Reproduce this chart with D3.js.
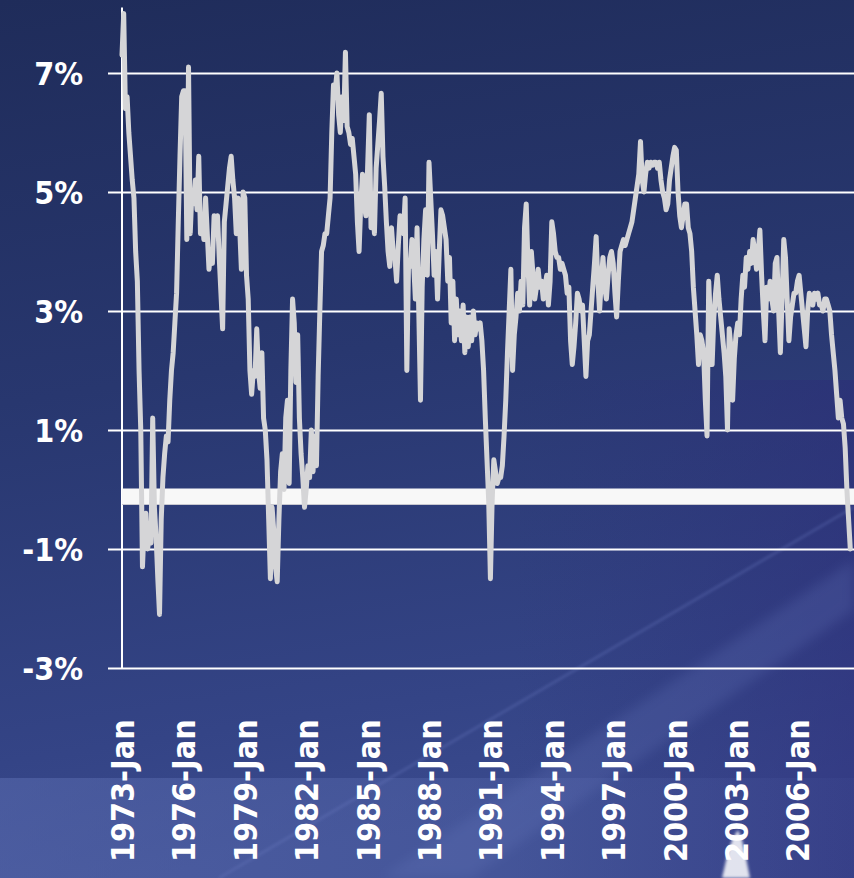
<!DOCTYPE html>
<html>
<head>
<meta charset="utf-8">
<script src="https://cdn.jsdelivr.net/npm/d3@7"></script>
<style>
  html, body { margin: 0; padding: 0; background: #24336a; }
  svg { display: block; }
</style>
</head>
<body>
<svg id="chart" width="854" height="878"></svg>
<script>
// Monthly rate, percent, starting January 1973 (one row per year)
const startYear = 1973;
const monthNames = ["Jan","Feb","Mar","Apr","May","Jun","Jul","Aug","Sep","Oct","Nov","Dec"];
const rate = [
  7.3, 8.0, 6.4, 6.6, 6.0, 5.6, 5.2, 4.9, 4.0, 3.5, 2.0, 1.0,        // 1973
  -1.3, -0.6, -0.4, -1.0, -0.8, -0.9, 1.2, -0.3, -0.8, -1.5, -2.1, -0.5, // 1974
  0.2, 0.6, 0.9, 0.8, 1.5, 2.0, 2.3, 2.8, 3.3, 4.5, 5.6, 6.6,        // 1975
  6.7, 6.7, 4.2, 7.1, 4.3, 5.0, 4.8, 5.2, 4.7, 5.6, 4.3, 4.6,        // 1976
  4.2, 4.9, 4.3, 3.7, 4.0, 3.8, 4.6, 4.4, 4.6, 3.9, 3.3, 2.7,        // 1977
  4.5, 4.8, 5.1, 5.4, 5.6, 5.2, 4.9, 4.3, 4.9, 4.4, 3.7, 5.0,        // 1978
  4.9, 3.6, 3.2, 2.0, 1.6, 2.0, 1.9, 2.7, 2.0, 1.7, 2.3, 1.2,        // 1979
  1.0, 0.5, -0.5, -1.5, -0.3, -0.7, -1.3, -1.55, -0.5, 0.3, 0.6, 0.0, // 1980
  1.2, 1.5, 0.1, 2.0, 3.2, 2.8, 1.8, 2.6, 1.2, 0.6, 0.2, -0.3,       // 1981
  0.0, 0.4, 0.2, 1.0, 0.3, 0.9, 0.4, 1.9, 3.0, 4.0, 4.1, 4.3,        // 1982
  4.3, 4.6, 4.9, 6.0, 6.8, 6.7, 7.0, 6.3, 6.0, 6.6, 6.2, 7.35,       // 1983
  6.1, 6.0, 5.8, 5.9, 5.6, 5.3, 4.5, 4.0, 4.8, 5.3, 4.8, 4.6,        // 1984
  5.4, 6.3, 4.4, 4.8, 4.3, 5.4, 5.8, 6.2, 6.66, 5.6, 5.1, 4.5,       // 1985
  4.0, 3.75, 4.4, 4.0, 3.9, 3.5, 4.1, 4.6, 4.4, 4.3, 4.9, 2.0,       // 1986
  3.8, 3.75, 4.2, 3.8, 3.2, 4.4, 3.0, 1.5, 3.4, 4.2, 4.7, 3.6,       // 1987
  5.5, 4.9, 4.3, 3.6, 4.0, 3.2, 4.0, 4.7, 4.6, 4.4, 4.2, 3.5,        // 1988
  3.9, 2.8, 3.5, 2.5, 3.2, 2.6, 3.0, 2.5, 3.1, 2.3, 2.9, 2.4,        // 1989
  2.9, 2.5, 3.0, 2.6, 2.8, 2.7, 2.8, 2.5, 2.0, 1.2, 0.5, -0.2,       // 1990
  -1.5, -0.2, 0.5, 0.3, 0.1, 0.2, 0.2, 0.4, 0.9, 1.5, 2.3, 3.0,      // 1991
  3.7, 2.0, 2.6, 2.9, 3.3, 3.0, 3.5, 3.1, 4.4, 4.8, 3.8, 3.1,        // 1992
  4.0, 3.6, 3.2, 3.4, 3.7, 3.4, 3.5, 3.2, 3.4, 3.6, 3.1, 3.5,        // 1993
  4.5, 4.3, 4.0, 3.9, 3.9, 3.7, 3.8, 3.7, 3.6, 3.3, 3.4, 2.5,        // 1994
  2.1, 2.4, 2.8, 3.3, 3.2, 3.0, 3.1, 2.5, 1.9, 2.5, 2.6, 3.0,        // 1995
  3.4, 3.8, 4.25, 3.5, 3.0, 3.5, 3.9, 3.4, 3.2, 3.6, 3.9, 4.0,       // 1996
  3.8, 3.3, 2.9, 3.5, 4.0, 4.1, 4.2, 4.1, 4.2, 4.3, 4.4, 4.5,        // 1997
  4.7, 4.9, 5.1, 5.3, 5.85, 5.2, 5.0, 5.3, 5.5, 5.4, 5.5, 5.45,      // 1998
  5.5, 5.5, 5.4, 5.5, 5.2, 5.0, 4.9, 4.7, 4.8, 5.2, 5.4, 5.6,        // 1999
  5.75, 5.7, 5.0, 4.6, 4.4, 4.6, 4.8, 4.8, 4.4, 4.3, 4.0, 3.4,       // 2000
  3.0, 2.6, 2.1, 2.6, 2.5, 2.3, 1.5, 0.9, 3.5, 2.8, 2.1, 2.9,        // 2001
  3.3, 3.6, 3.2, 2.9, 2.6, 2.3, 1.9, 1.0, 2.7, 2.4, 1.5, 2.2,        // 2002
  2.6, 2.8, 2.6, 3.2, 3.6, 3.4, 3.9, 3.7, 4.0, 3.8, 4.2, 4.0,        // 2003
  3.7, 4.0, 4.36, 3.6, 3.0, 2.5, 3.4, 3.2, 3.5, 3.2, 3.0, 3.8,       // 2004
  3.9, 3.0, 2.3, 3.2, 4.2, 3.9, 3.2, 2.5, 2.9, 3.1, 3.3, 3.3,        // 2005
  3.5, 3.6, 3.3, 3.0, 2.7, 2.4, 3.0, 3.3, 3.2, 3.1, 3.3, 3.2,        // 2006
  3.3, 3.1, 3.1, 3.0, 3.2, 3.2, 3.1, 3.0, 2.6, 2.3, 2.0, 1.6,        // 2007
  1.2, 1.5, 1.2, 1.1, 0.7, 0.0, -0.5, -1.0                            // 2008
];
const yTicks = [-3, -1, 1, 3, 5, 7];
const labelEvery = 36;   // one category label every three years
const axisMonths = 432;  // category slots on the horizontal axis

const categories = rate.map((_, i) =>
  `${startYear + Math.floor(i / 12)}-${monthNames[i % 12]}`);

const W = 854, H = 878;
const plotLeft = 122, plotTop = 73, plotBottom = 668;
const monthPx = 1.7056;

const svg = d3.select("#chart");
const defs = svg.append("defs");

// backdrop
const bg = defs.append("linearGradient").attr("id", "bg")
  .attr("x1", 0).attr("y1", 0).attr("x2", 0.15).attr("y2", 1);
bg.append("stop").attr("offset", 0).attr("stop-color", "#1f2c5a");
bg.append("stop").attr("offset", 0.45).attr("stop-color", "#28376f");
bg.append("stop").attr("offset", 0.85).attr("stop-color", "#344486");
bg.append("stop").attr("offset", 1).attr("stop-color", "#3a4a8e");
svg.append("rect").attr("width", W).attr("height", H).attr("fill", "url(#bg)");

const side = defs.append("linearGradient").attr("id", "side")
  .attr("x1", 0).attr("y1", 0).attr("x2", 1).attr("y2", 0);
side.append("stop").attr("offset", 0).attr("stop-color", "#3c5096").attr("stop-opacity", 0.0);
side.append("stop").attr("offset", 0.6).attr("stop-color", "#2c2f78").attr("stop-opacity", 0.0);
side.append("stop").attr("offset", 1).attr("stop-color", "#2c2a78").attr("stop-opacity", 0.45);
svg.append("rect").attr("y", 380).attr("width", W).attr("height", H - 380).attr("fill", "url(#side)");

defs.append("filter").attr("id", "soft").append("feGaussianBlur").attr("stdDeviation", 6);
defs.append("filter").attr("id", "soft2").append("feGaussianBlur").attr("stdDeviation", 1.5);

// lighter strip along the bottom
const strip = defs.append("linearGradient").attr("id", "strip")
  .attr("x1", 0).attr("y1", 0).attr("x2", 1).attr("y2", 0);
strip.append("stop").attr("offset", 0).attr("stop-color", "#5a6cb0").attr("stop-opacity", 0.55);
strip.append("stop").attr("offset", 0.55).attr("stop-color", "#5a6cb0").attr("stop-opacity", 0.35);
strip.append("stop").attr("offset", 1).attr("stop-color", "#4a58a0").attr("stop-opacity", 0.15);
svg.append("rect").attr("y", 778).attr("width", W).attr("height", H - 778).attr("fill", "url(#strip)");

// diagonal sheen
svg.append("path")
  .attr("d", "M380,878 L854,560 L854,610 L470,878 Z")
  .attr("fill", "#6b7cc0").attr("opacity", 0.22).attr("filter", "url(#soft)");
svg.append("path")
  .attr("d", "M219,878 L854,507")
  .attr("stroke", "#6a7ac0").attr("stroke-width", 2).attr("opacity", 0.45)
  .attr("filter", "url(#soft2)");

// small bright shape low in the corner
svg.append("path")
  .attr("d", "M722,878 L728,852 L733,838 L738,830 L742,840 L746,858 L750,878 Z")
  .attr("fill", "#ffffff").attr("opacity", 0.85).attr("filter", "url(#soft2)");

// scales
const x = d3.scaleLinear().domain([0, axisMonths]).range([plotLeft, plotLeft + axisMonths * monthPx]);
const y = d3.scaleLinear().domain([-3, 7]).range([plotBottom, plotTop]);

// horizontal gridlines with percentage labels
const yAxis = svg.append("g")
  .attr("transform", `translate(${plotLeft},0)`)
  .call(d3.axisLeft(y).tickValues(yTicks).tickFormat(d => `${d}%`).tickSizeOuter(0));
yAxis.select(".domain").remove();
yAxis.selectAll(".tick line")
  .attr("x1", -14).attr("x2", W - plotLeft)
  .attr("stroke", "#ffffff").attr("stroke-width", 2);
yAxis.selectAll(".tick text")
  .attr("x", -39).attr("dy", "0.36em")
  .attr("fill", "#ffffff")
  .style("font-family", "'DejaVu Sans Condensed', 'DejaVu Sans', sans-serif")
  .style("font-weight", "bold")
  .style("font-size", "32px");

// vertical axis line
svg.append("line")
  .attr("x1", plotLeft).attr("x2", plotLeft)
  .attr("y1", y(8.1)).attr("y2", y(-3))
  .attr("stroke", "#ffffff").attr("stroke-width", 2);

// zero band
svg.append("rect")
  .attr("x", plotLeft).attr("y", y(0) - 1)
  .attr("width", W - plotLeft).attr("height", 16)
  .attr("fill", "#f8f8f8");
svg.append("line")
  .attr("x1", plotLeft).attr("x2", W)
  .attr("y1", y(0) + 15).attr("y2", y(0) + 15)
  .attr("stroke", "#c8c8d0").attr("stroke-width", 1);

// category labels
const xAxis = svg.append("g")
  .attr("transform", "translate(0,862)")
  .call(d3.axisBottom(x)
    .tickValues(d3.range(0, rate.length, labelEvery))
    .tickFormat(i => categories[i])
    .tickSize(0));
xAxis.select(".domain").remove();
xAxis.selectAll(".tick text")
  .attr("transform", "rotate(-90)")
  .attr("x", 0).attr("y", 0).attr("dy", "0.36em")
  .attr("text-anchor", "start")
  .attr("fill", "#ffffff")
  .style("font-family", "'DejaVu Sans Condensed', 'DejaVu Sans', sans-serif")
  .style("font-weight", "bold")
  .style("font-size", "32px");

// the series
const line = d3.line()
  .x((d, i) => x(i))
  .y(d => y(d));
svg.append("path")
  .datum(rate)
  .attr("d", line)
  .attr("fill", "none")
  .attr("stroke", "#d5d5d7")
  .attr("stroke-width", 5)
  .attr("stroke-linejoin", "round")
  .attr("stroke-linecap", "round");
</script>
</body>
</html>
